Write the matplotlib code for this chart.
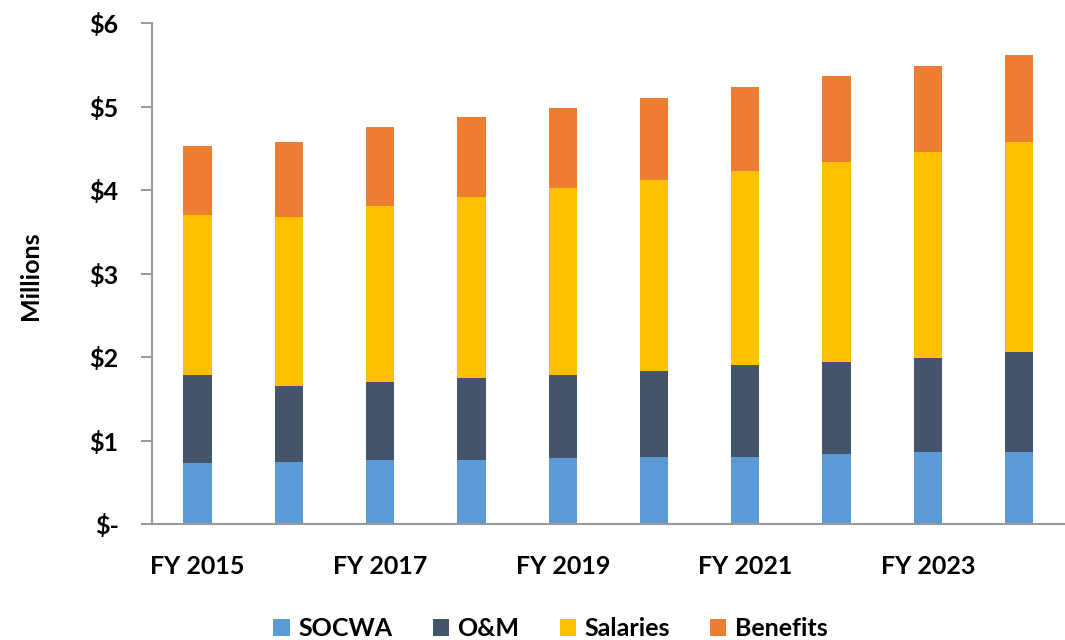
import matplotlib.pyplot as plt
import numpy as np

years = ["FY 2015", "FY 2016", "FY 2017", "FY 2018", "FY 2019",
         "FY 2020", "FY 2021", "FY 2022", "FY 2023", "FY 2024"]
socwa = [0.73, 0.75, 0.77, 0.77, 0.79, 0.81, 0.81, 0.84, 0.86, 0.86]
om = [1.06, 0.91, 0.93, 0.98, 1.00, 1.02, 1.09, 1.10, 1.13, 1.20]
salaries = [1.91, 2.02, 2.11, 2.17, 2.24, 2.29, 2.33, 2.40, 2.46, 2.52]
benefits = [0.83, 0.89, 0.94, 0.96, 0.95, 0.98, 1.00, 1.02, 1.04, 1.04]

series = [("SOCWA", socwa, "#5B9BD5"),
          ("O&M", om, "#44546A"),
          ("Salaries", salaries, "#FFC000"),
          ("Benefits", benefits, "#ED7D31")]

plt.rcParams['font.family'] = ['Lato', 'DejaVu Sans']

fig = plt.figure(figsize=(10.65, 6.4), dpi=100)
ax = fig.add_axes([0.1427, 0.181, 0.857, 0.783])

x = np.arange(len(years))
bottom = np.zeros(len(years))
for name, vals, col in series:
    ax.bar(x, vals, width=0.31, bottom=bottom, color=col, label=name)
    bottom += np.array(vals)

ax.set_xlim(-0.5, len(years) - 0.5)
ax.set_ylim(0, 6)
ax.set_yticks(range(7))
ax.set_yticklabels(["$-"] + ["$%d" % v for v in range(1, 7)],
                   fontsize=18, fontweight='bold')
ax.set_xticks(x[::2])
ax.set_xticklabels(years[::2], fontsize=18, fontweight='bold')
ax.tick_params(axis='x', length=0, pad=22)
ax.tick_params(axis='y', length=8, color='#888888', width=1.2, pad=16)

for s in ['top', 'right']:
    ax.spines[s].set_visible(False)
for s in ['left', 'bottom']:
    ax.spines[s].set_color('#999999')
    ax.spines[s].set_linewidth(1.5)

fig.text(0.029, 0.57, "Millions", rotation=90, ha='center', va='center',
         fontsize=18, fontweight='bold')

fig.legend(loc='center', bbox_to_anchor=(0.517, 0.018), ncol=4,
           frameon=False, handlelength=0.65, handleheight=0.65,
           handletextpad=0.35, columnspacing=1.6, borderpad=0,
           prop={'size': 18, 'weight': 'bold'})

fig.savefig("out.png", dpi=100)
